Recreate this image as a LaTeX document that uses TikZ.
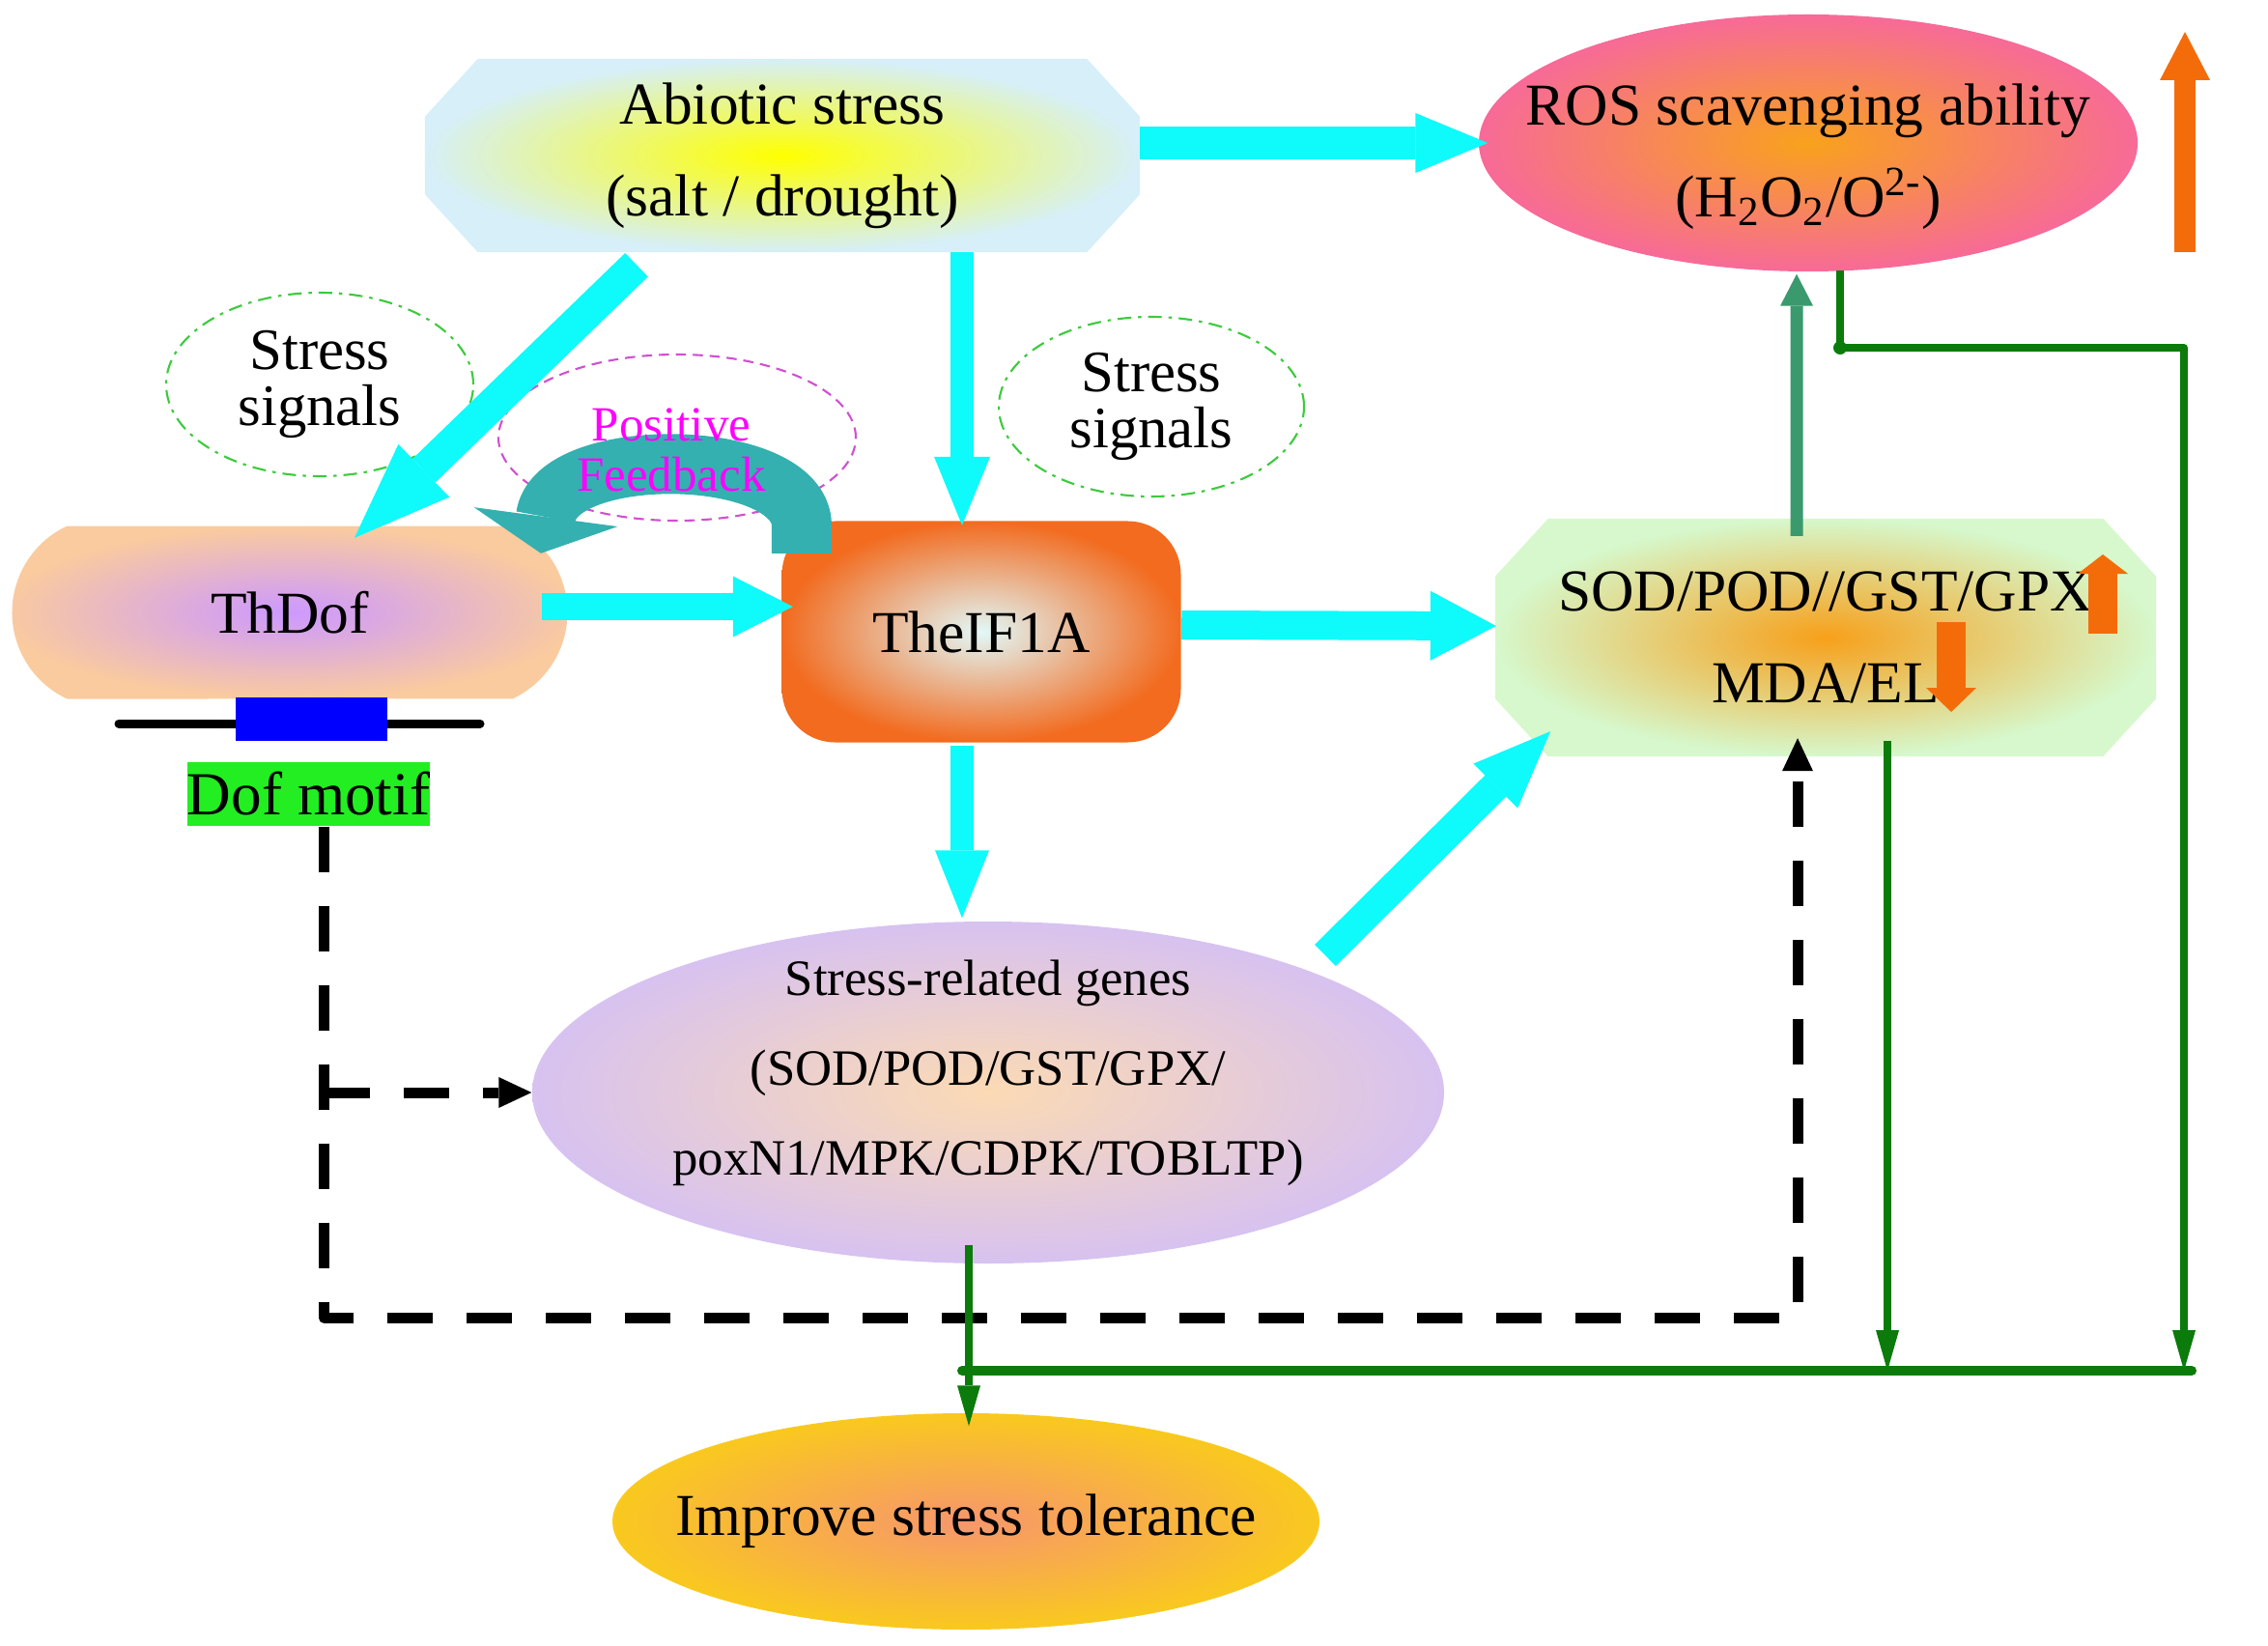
\documentclass[tikz,border=0pt]{standalone}
\usepackage{fontspec}
\setmainfont{Liberation Serif}
\usetikzlibrary{arrows.meta,calc,shapes.geometric,shapes.misc}
\pgfdeclarelayer{background}
\pgfsetlayers{background,main}
\definecolor{sunyellow}{HTML}{FFFF00}
\definecolor{skyfill}{HTML}{D6EFF9}
\definecolor{rospink}{HTML}{F76A98}
\definecolor{rosmid}{HTML}{F8A21C}
\definecolor{dofpeach}{HTML}{FACB9E}
\definecolor{doflilac}{HTML}{CC99FF}
\definecolor{eiforange}{HTML}{F26B1F}
\definecolor{eifpale}{HTML}{E2F8F8}
\definecolor{sodgreen}{HTML}{D6F8CC}
\definecolor{sodmid}{HTML}{F7A01A}
\definecolor{genelilac}{HTML}{D7C2F0}
\definecolor{genemid}{HTML}{FBDAB4}
\definecolor{tolyellow}{HTML}{F9C91E}
\definecolor{tolmid}{HTML}{F7966C}
\definecolor{arrcyan}{HTML}{0FFAFA}
\definecolor{fbteal}{HTML}{34B0B0}
\definecolor{upgreen}{HTML}{3A9A6E}
\definecolor{darkgreen}{HTML}{0B7B0B}
\definecolor{motifgreen}{HTML}{22EE22}
\definecolor{motifblue}{HTML}{0000FF}
\definecolor{uporange}{HTML}{F46C0A}
\definecolor{sigline}{HTML}{3CCB3C}
\definecolor{fbline}{HTML}{D050D0}
\definecolor{fbword}{HTML}{FF00FF}
\begin{document}
\begin{tikzpicture}[line join=round,
  txt/.style={font=\fontsize{17.5}{27}\selectfont, align=center},
  blob/.style={txt, shading=radial, inner sep=0pt},
  signal/.style={ellipse, draw=sigline, line width=0.6pt, dash pattern=on 4pt off 2pt on 1pt off 2pt, inner sep=0pt, align=center, font=\fontsize{17.3}{16.5}\selectfont},
  block/.style n args={3}{draw=arrcyan, line width=#1, -{Triangle[length=#2, width=#3, line width=0pt]}},
  greenline/.style={draw=darkgreen, line width=0.75mm},
  greenarrow/.style={greenline, -{Triangle[length=4.2mm, width=2.4mm, line width=0pt]}},
  dasharrow/.style={draw=black, line width=1.1mm, dash pattern=on 4.7mm off 3.5mm, -{Triangle[length=3.4mm, width=3.2mm, line width=0pt]}},
  uparrow/.style n args={3}{draw=uporange, line width=#1, -{Triangle[length=#2, width=#3, line width=0pt]}}]
\useasboundingbox (0,0) rectangle (23.48,-17.04);

\node[txt, inner sep=0pt, minimum width=7.39cm, minimum height=1.99cm] (abiotic) at (8.10,-1.61) {Abiotic stress\\(salt / drought)};
\node[blob, ellipse, minimum width=6.82cm, minimum height=2.66cm, inner color=rosmid, outer color=rospink,
  label={[txt, yshift=-0.14cm]center:{ROS scavenging ability\\(H\textsubscript{2}O\textsubscript{2}/O\textsuperscript{2-})}}] (ros) at (18.72,-1.48) {};
\node[blob, rounded rectangle, rounded rectangle arc length=130, minimum width=5.75cm, minimum height=1.79cm, inner color=doflilac, outer color=dofpeach] (thdof) at (3.00,-6.34) {ThDof};
\node[blob, rectangle, rounded corners=0.55cm, minimum width=4.13cm, minimum height=2.29cm, inner color=eifpale, outer color=eiforange] (theif) at (10.16,-6.54) {TheIF1A};
\node[txt, inner sep=0pt, minimum width=6.83cm, minimum height=2.45cm] (sod) at (18.90,-6.60) {SOD/POD//GST/GPX\\MDA/EL};
\node[blob, ellipse, minimum width=9.44cm, minimum height=3.54cm, inner color=genemid, outer color=genelilac,
  label={[align=center, font=\fontsize{15}{26.5}\selectfont, yshift=0.2cm]center:{Stress-related genes\\(SOD/POD/GST/GPX/\\poxN1/MPK/CDPK/TOBLTP)}}] (genes) at (10.23,-11.31) {};
\node[blob, ellipse, minimum width=7.32cm, minimum height=2.24cm, inner color=tolmid, outer color=tolyellow,
  label={[txt]center:{Improve stress tolerance}}] (improve) at (10.00,-15.75) {};

\begin{pgfonlayer}{background}
\foreach \n/\ci/\co in {abiotic/sunyellow/skyfill, sod/sodmid/sodgreen}
\shade[inner color=\ci, outer color=\co] ($(\n.north west)+(0.55,0)$) -- ($(\n.north east)+(-0.55,0)$) -- ($(\n.north east)+(0,-0.6)$) -- ($(\n.south east)+(0,0.6)$) -- ($(\n.south east)+(-0.55,0)$) -- ($(\n.south west)+(0.55,0)$) -- ($(\n.south west)+(0,0.6)$) -- ($(\n.north west)+(0,-0.6)$) -- cycle;
\end{pgfonlayer}

\node[signal, minimum width=3.18cm, minimum height=1.9cm] (sig1) at (3.31,-3.98) {Stress\\signals};
\node[signal, minimum width=3.16cm, minimum height=1.86cm] (sig2) at (11.92,-4.21) {Stress\\signals};
\node[ellipse, draw=fbline, line width=0.6pt, dash pattern=on 3pt off 2pt, minimum width=3.7cm, minimum height=1.72cm] (posfb) at (7.01,-4.53) {};

\draw[line width=0.9mm, line cap=round] (1.23,-7.49) -- (4.97,-7.49);
\node[fill=motifblue, inner sep=0pt, minimum width=1.57cm, minimum height=0.45cm] (site) at (3.225,-7.445) {};
\node[fill=motifgreen, inner sep=0pt, minimum width=2.47cm, minimum height=0.66cm, font=\fontsize{18}{20}\selectfont] (motif) at (3.195,-8.22) {Dof motif};

\path (19.05,-3.60) coordinate (rj) (22.61,-3.60) coordinate (rr) (9.96,-14.19) coordinate (bl) (22.69,-14.19) coordinate (br);
\path ($(sod.south)+(0.64,0.16)$) coordinate (sodfoot) ($(genes.south)+(-0.20,0.20)$) coordinate (genefoot) ($(motif.south)+(0.16,0)$) coordinate (dl);

\draw[dasharrow] (dl) |- ($(sod.south)+(-0.29,-5.81)$) -- ($(sod.south)+(-0.29,0.19)$);
\draw[dasharrow] (dl |- genes.west) -- (genes.west);

\draw[greenline, line width=1mm, line cap=round] (bl) -- (br);
\draw[greenarrow] ($(ros.south)+(0.33,0.02)$) |- (rr) -- (rr |- br);
\fill[darkgreen] (rj) circle (0.07);
\draw[greenarrow] (sodfoot) -- (sodfoot |- br);
\draw[greenarrow] (genefoot) -- ($(genefoot |- improve.north)+(0,-0.14)$);
\draw[upgreen, line width=1.3mm, -{Triangle[length=3.3mm, width=3.4mm, line width=0pt]}] ($(sod.north)+(-0.30,-0.18)$) -- ($(ros.south)+(-0.12,-0.02)$);

\draw[block={3.4mm}{7.5mm}{6.2mm}] (abiotic.east |- ros) -- ($(ros.west)+(0.1,0)$);
\draw[block={3.4mm}{10mm}{7.6mm}] ($(abiotic.south)+(-1.51,-0.13)$) -- ($(thdof.north)+(0.67,-0.13)$);
\draw[block={2.4mm}{7.1mm}{5.8mm}] ($(abiotic.south)+(1.86,0)$) -- ($(theif.north)+(-0.20,-0.05)$);
\draw[block={2.8mm}{6.2mm}{6.3mm}] ($(thdof.east)+(-0.27,0.06)$) -- ($(theif.west)+(0.12,0.26)$);
\draw[block={3mm}{6.8mm}{7.2mm}] ($(theif.east)+(0,0.07)$) -- ($(sod.west)+(0.01,0.12)$);
\draw[block={2.4mm}{7mm}{5.6mm}] ($(theif.south)+(-0.20,-0.03)$) -- ($(genes.north)+(-0.27,0.03)$);
\draw[block={3.1mm}{8mm}{6.5mm}] ($(genes.center)+(3.49,1.42)$) -- ($(sod.south)+(-2.85,0.26)$);

\draw[fbteal, line width=0.62cm, -{Triangle[length=0.38cm, width=1.5cm, line width=0pt]}] ($(theif.north west)+(0.21,-0.34)$) -- ++(0,0.33) .. controls +(-0.10,0.78) and +(0.15,1.12) .. ($(thdof.north)+(2.60,-0.29)$);
\node[text=fbword, align=center, font=\fontsize{14.5}{15}\selectfont] (fbtext) at (6.95,-4.66) {Positive\\Feedback};

\draw[uparrow={2.2mm}{5mm}{5.2mm}] (22.62,-2.61) -- (22.62,-0.33);
\draw[uparrow={3mm}{2mm}{5.2mm}] (21.77,-6.56) -- (21.77,-5.74);
\draw[uparrow={3mm}{2.5mm}{5.2mm}] (20.20,-6.44) -- (20.20,-7.37);
\end{tikzpicture}
\end{document}
